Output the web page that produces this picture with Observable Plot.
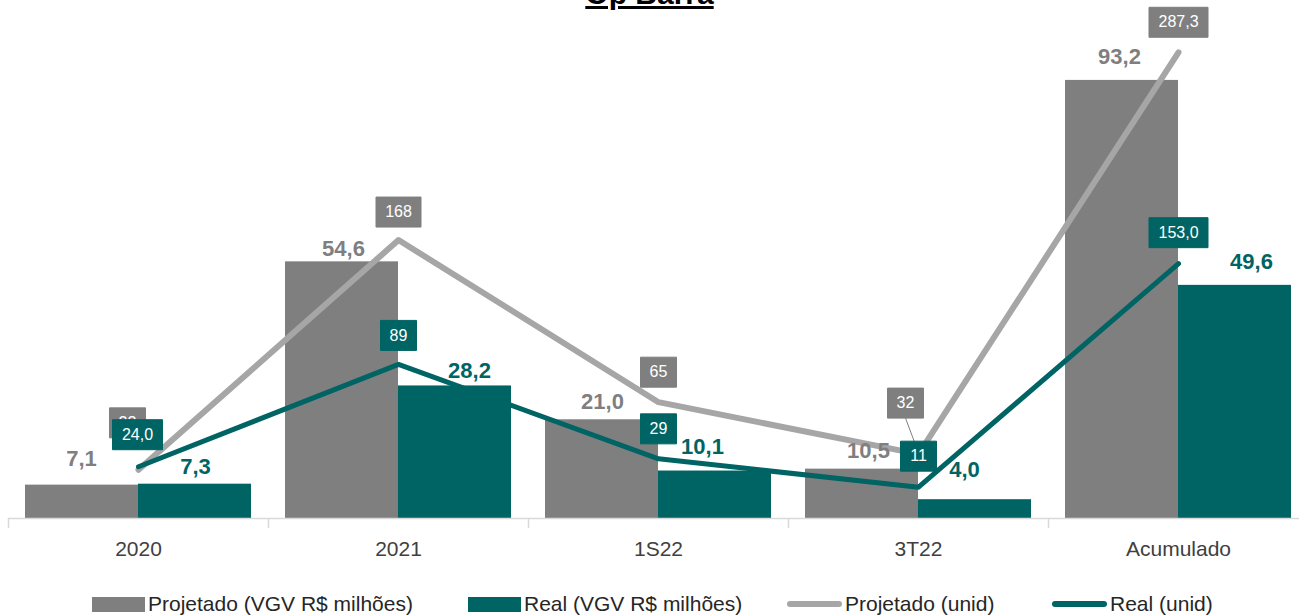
<!DOCTYPE html>
<html><head><meta charset="utf-8">
<script src="https://cdn.jsdelivr.net/npm/d3@7"></script>
<script src="https://cdn.jsdelivr.net/npm/@observablehq/plot@0.6"></script>
<style>
body{margin:0;width:1299px;height:616px;overflow:hidden;background:#fff;font-family:"Liberation Sans",Arial,sans-serif;position:relative}
#title{position:absolute;top:-21px;left:0;width:1299px;text-align:center;font-weight:bold;font-size:30px;line-height:30px;text-decoration:underline;color:#000;z-index:2}
#chart{position:absolute;top:0;left:0}
#legend{position:absolute;top:591px;left:0;width:1299px;height:26px;font-size:21px;line-height:26px;color:#262626;white-space:nowrap}
.item{position:absolute;top:0;display:flex;align-items:center}
.sw{width:53px;height:15px;margin-right:3px}
.ln{width:55px;height:6px;border-radius:3px;margin-right:3px}
</style></head>
<body>
<div id="title">Op Barra</div>
<div id="chart"></div>
<div id="legend"></div>
<script>
const categories = ["2020", "2021", "1S22", "3T22", "Acumulado"];
const projVGV = [7.1, 54.6, 21.0, 10.5, 93.2];
const realVGV = [7.3, 28.2, 10.1, 4.0, 49.6];
const projUnid = [22, 168, 65, 32, 287.3];
const realUnid = [24.0, 89, 29, 11, 153.0];
const projUnidLabels = ["22", "168", "65", "32", "287,3"];
const realUnidLabels = ["24,0", "89", "29", "11", "153,0"];
const seriesNames = ["Projetado (VGV R$ milhões)", "Real (VGV R$ milhões)", "Projetado (unid)", "Real (unid)"];

// label placement styles (pixel offsets)
const projBarLabelOffset = [[0, -26], [2, -13], [1, -18], [7, -18], [-2, -23]];
const realBarLabelOffset = [[0, -17], [14, -15], [-13, -24], [-11, -30], [16, -23]];
const projBoxOffset = [[-11, -47], [0, -28], [0, -30], [-13, -51], [0, -30]];
const realBoxOffset = [[-1, -32], [0, -29], [0, -30], [0, -31], [0, -31]];
const legendLeft = [92, 468, 787, 1052];

const GRAY = "#7f7f7f", TEAL = "#006464", LGRAY = "#a6a6a6";
const rows = categories.map((c, i) => ({
  cat: c, projVGV: projVGV[i], realVGV: realVGV[i],
  projUnid: projUnid[i], realUnid: realUnid[i],
  projLab: projUnidLabels[i], realLab: realUnidLabels[i], i
}));
// secondary (units) axis mapped onto primary (VGV) axis
const sec = d3.scaleLinear().domain([-8.9, 320.2]).range([0, 110.2]);
const fmt = v => v.toFixed(1).replace(".", ",");
const FONT = "'Liberation Sans', Arial, sans-serif";

function boxWidth(label) {
  const digits = label.replace(/[^0-9]/g, "").length;
  const commas = label.length - digits;
  return 18 + 9 * digits + 5 * commas;
}
function boxSymbol(w, h, leader) {
  return {
    draw(ctx) {
      ctx.rect(-w / 2, -h / 2, w, h);
      if (leader) { ctx.moveTo(0, h / 2); ctx.lineTo(leader[0], leader[1]); }
    }
  };
}

function boxMarks(i, value, label, off, fill) {
  const d = [rows[i]];
  const leader = (off[0] !== 0 && i === 3) ? [-off[0] - 1, -off[1] - 4] : null;
  return [
    Plot.dot(d, {x: "cat", y: () => sec(value), r: 1, dx: off[0], dy: off[1],
      symbol: boxSymbol(boxWidth(label), 30, leader), fill, stroke: fill, strokeWidth: 1}),
    Plot.text(d, {x: "cat", y: () => sec(value), text: () => label, dx: off[0], dy: off[1],
      fill: "white", fontSize: 16})
  ];
}

const chart = Plot.plot({
  width: 1299, height: 575,
  marginLeft: 8, marginRight: 0, marginTop: 0, marginBottom: 57,
  x: {domain: categories, range: [8, 1308], padding: 0, label: null},
  y: {domain: [0, 110.2], axis: null},
  style: {fontFamily: FONT, background: "transparent", overflow: "visible"},
  marks: [
    Plot.barY(rows, {x: "cat", y: "projVGV", fill: GRAY, insetLeft: 17, insetRight: 130}),
    Plot.barY(rows, {x: "cat", y: "realVGV", fill: TEAL, insetLeft: 130, insetRight: 17}),
    Plot.ruleY([0], {stroke: "#d9d9d9", strokeWidth: 1.5}),
    Plot.ruleX(categories, {x: d => d, dx: -130, y1: 0, y2: -2.1, stroke: "#d9d9d9", strokeWidth: 1.5}),
    Plot.axisX({tickSize: 0, tickPadding: 23, fontSize: 21, fill: "#404040"}),
    Plot.line(rows, {x: "cat", y: d => sec(d.projUnid), stroke: LGRAY, strokeWidth: 6, strokeLinejoin: "round", strokeLinecap: "round"}),
    Plot.line(rows, {x: "cat", y: d => sec(d.realUnid), stroke: TEAL, strokeWidth: 5, strokeLinejoin: "round", strokeLinecap: "round"}),
    ...rows.map((r, i) => Plot.text([r], {x: "cat", y: "projVGV", text: d => fmt(d.projVGV),
      dx: projBarLabelOffset[i][0] - 57, dy: projBarLabelOffset[i][1], fill: GRAY, fontSize: 22, fontWeight: "bold"})),
    ...rows.map((r, i) => Plot.text([r], {x: "cat", y: "realVGV", text: d => fmt(d.realVGV),
      dx: realBarLabelOffset[i][0] + 57, dy: realBarLabelOffset[i][1], fill: TEAL, fontSize: 22, fontWeight: "bold"})),
    ...rows.flatMap((r, i) => boxMarks(i, r.projUnid, r.projLab, projBoxOffset[i], GRAY)),
    ...rows.flatMap((r, i) => boxMarks(i, r.realUnid, r.realLab, realBoxOffset[i], TEAL))
  ]
});
document.getElementById("chart").append(chart);

// legend
const legend = document.getElementById("legend");
const kinds = [["sw", GRAY], ["sw", TEAL], ["ln", LGRAY], ["ln", TEAL]];
seriesNames.forEach((name, i) => {
  const item = document.createElement("div");
  item.className = "item";
  item.style.left = legendLeft[i] + "px";
  const s = document.createElement("span");
  s.className = kinds[i][0];
  s.style.background = kinds[i][1];
  const t = document.createElement("span");
  t.textContent = name;
  item.append(s, t);
  legend.append(item);
});
</script>
</body></html>
